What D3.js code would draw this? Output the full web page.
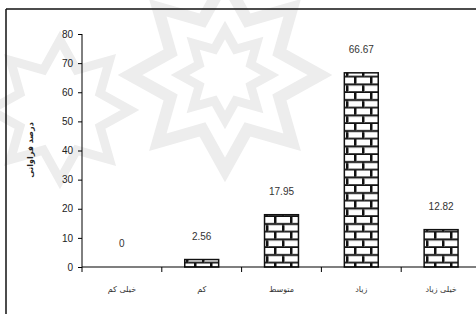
<!DOCTYPE html>
<html>
<head>
<meta charset="utf-8">
<script src="https://cdnjs.cloudflare.com/ajax/libs/d3/7.8.5/d3.min.js"></script>
<style>
  body { margin: 0; background: #fff; }
  svg { display: block; }
  .axis text { font-family: "Liberation Sans", Arial, sans-serif; font-size: 10px; fill: #222; }
  .axis path, .axis line { stroke: #000; }
</style>
</head>
<body>
<div id="chart"></div>
<script>
var categories = ["خیلی کم", "کم", "متوسط", "زیاد", "خیلی زیاد"];
var values = [0, 2.56, 17.95, 66.67, 12.82];
var yTicks = [0, 10, 20, 30, 40, 50, 60, 70, 80];
var yTitle = "درصد فراوانی";

var width = 476;
var height = 314;

var svg = d3.select("#chart").append("svg")
  .attr("width", width)
  .attr("height", height);

/* faint watermark behind the chart */
var wm = svg.append("g").attr("fill", "none").attr("stroke", "#ededed").attr("stroke-width", 12);
function star(cx, cy, r, n) {
  var pts = [];
  for (var i = 0; i < n * 2; i++) {
    var a = Math.PI * i / n;
    var rr = i % 2 ? r * 0.62 : r;
    pts.push([cx + rr * Math.cos(a), cy + rr * Math.sin(a)]);
  }
  return "M" + pts.join("L") + "Z";
}
wm.append("path").attr("d", star(225, 75, 95, 8));
wm.append("path").attr("d", star(225, 75, 45, 8)).attr("stroke-width", 9);
wm.append("path").attr("d", star(60, 110, 70, 8)).attr("stroke-width", 9);

/* frame (top and left only) */
var frame = svg.append("g").attr("stroke", "#111").attr("stroke-width", 1.5);
frame.append("line").attr("x1", 6).attr("x2", 6).attr("y1", 9).attr("y2", height);
frame.append("line").attr("x1", 6).attr("x2", width).attr("y1", 9).attr("y2", 9);

/* brick pattern */
var defs = svg.append("defs");
var pat = defs.append("pattern")
  .attr("id", "brick")
  .attr("patternUnits", "userSpaceOnUse")
  .attr("width", 16).attr("height", 15.5)
  .attr("x", 2).attr("y", 0);
pat.append("rect").attr("width", 16).attr("height", 15.5).attr("fill", "#fff");
pat.append("rect").attr("x", 0).attr("y", 6).attr("width", 16).attr("height", 2).attr("fill", "#111");
pat.append("rect").attr("x", 0).attr("y", 13.75).attr("width", 16).attr("height", 2).attr("fill", "#111");
pat.append("rect").attr("x", 0).attr("y", 0).attr("width", 2).attr("height", 6).attr("fill", "#111");
pat.append("rect").attr("x", 8).attr("y", 8).attr("width", 2).attr("height", 6).attr("fill", "#111");
pat.append("rect").attr("x", 2).attr("y", 0).attr("width", 1).attr("height", 6).attr("fill", "#888");
pat.append("rect").attr("x", 10).attr("y", 8).attr("width", 1).attr("height", 6).attr("fill", "#888");

/* scales */
var x = d3.scaleBand()
  .domain(categories)
  .range([82, 481])
  .padding(0);

var y = d3.scaleLinear()
  .domain([0, 80])
  .range([267, 34]);

var barW = x.bandwidth() * 0.425;

/* bars */
svg.append("g").selectAll("rect")
  .data(values).enter()
  .append("rect")
  .attr("x", (d, i) => x(categories[i]) + (x.bandwidth() - barW) / 2)
  .attr("y", d => y(d))
  .attr("width", barW)
  .attr("height", d => y(0) - y(d))
  .attr("fill", "url(#brick)")
  .attr("stroke", d => d > 0 ? "#111" : "none")
  .attr("stroke-width", 1.5);

/* value labels */
svg.append("g").selectAll("text")
  .data(values).enter()
  .append("text")
  .attr("x", (d, i) => x(categories[i]) + x.bandwidth() / 2)
  .attr("y", d => y(d) - 20)
  .attr("text-anchor", "middle")
  .style("font-family", "Liberation Sans, Arial, sans-serif")
  .style("font-size", "10px")
  .style("fill", "#333")
  .text(d => d);

/* y axis */
svg.append("g")
  .attr("class", "axis")
  .attr("transform", "translate(82,0)")
  .call(d3.axisLeft(y).tickValues(yTicks).tickSize(4).tickSizeOuter(0).tickPadding(5))
  .select(".domain").attr("d", "M0," + y(80) + "V" + y(0));

/* x axis: line to the edge, ticks at category boundaries */
var xg = svg.append("g")
  .attr("class", "axis")
  .attr("transform", "translate(0," + y(0) + ")");
xg.append("line")
  .attr("x1", 82).attr("x2", width)
  .attr("stroke", "#000").attr("stroke-width", 1.2);
xg.selectAll(".bt")
  .data(categories).enter()
  .append("line")
  .attr("class", "bt")
  .attr("x1", d => x(d)).attr("x2", d => x(d))
  .attr("y1", 0).attr("y2", 5)
  .attr("stroke", "#000");
xg.selectAll(".cl")
  .data(categories).enter()
  .append("text")
  .attr("class", "cl")
  .attr("x", d => x(d) + x.bandwidth() / 2)
  .attr("y", 25)
  .attr("text-anchor", "middle")
  .style("font-family", "DejaVu Sans, sans-serif")
  .style("font-size", "8px")
  .style("fill", "#333")
  .text(d => d);

/* y title */
svg.append("text")
  .attr("transform", "translate(33,150) rotate(-90)")
  .attr("text-anchor", "middle")
  .style("font-family", "DejaVu Sans, sans-serif")
  .style("font-size", "8px")
  .style("font-weight", "bold")
  .style("fill", "#222")
  .text(yTitle);
</script>
</body>
</html>
